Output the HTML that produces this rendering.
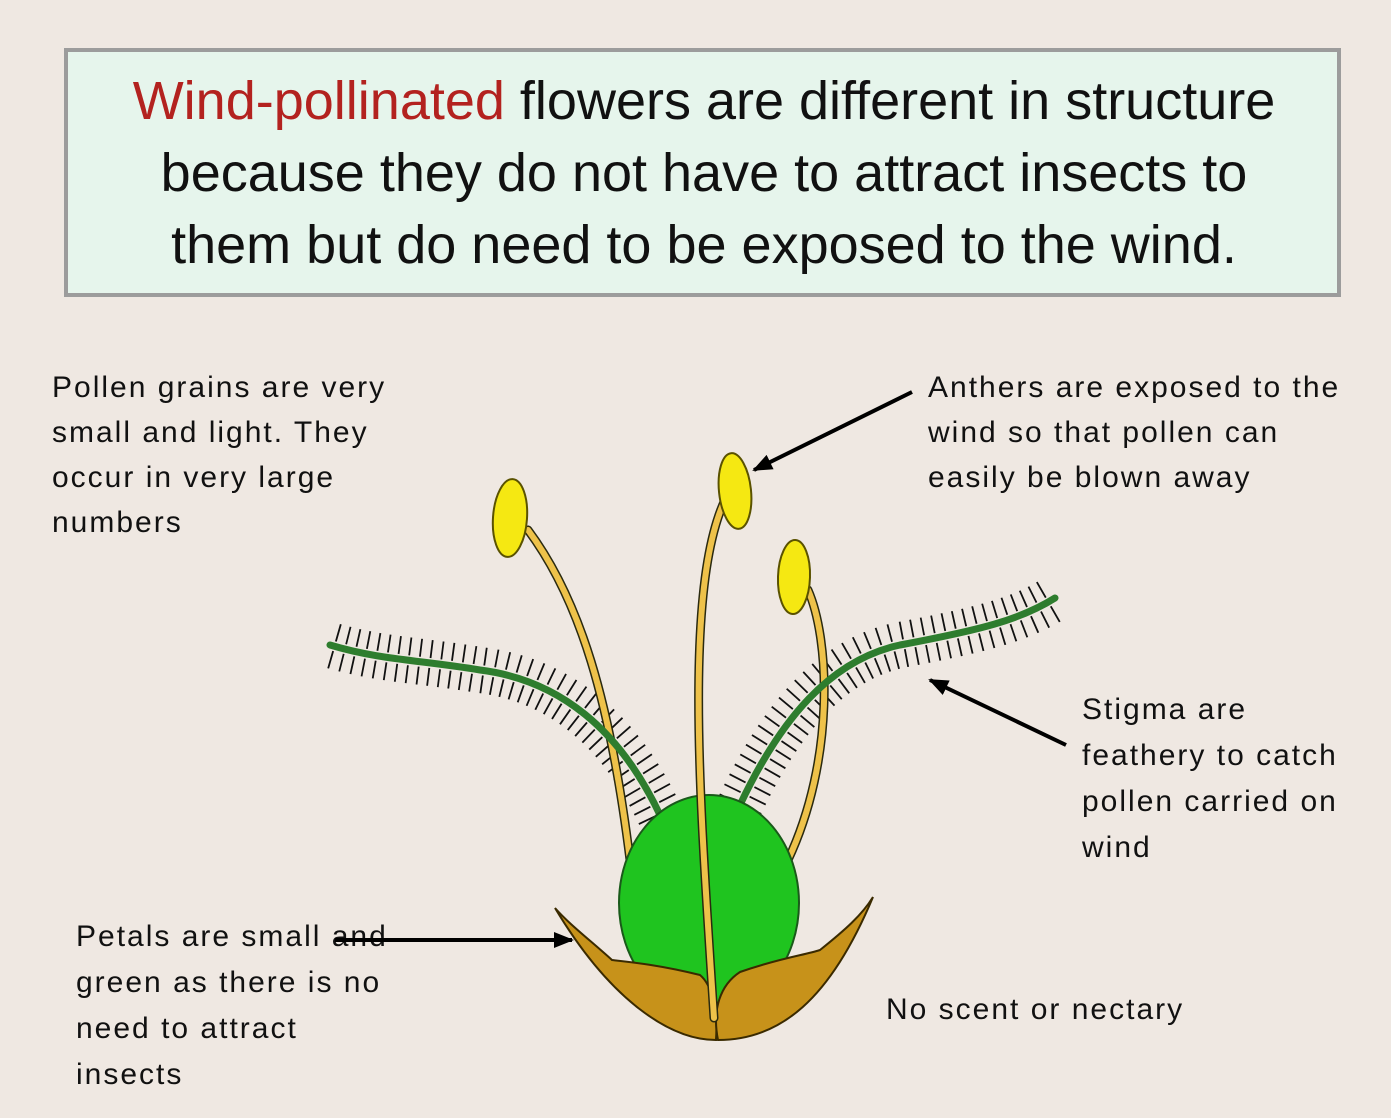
<!DOCTYPE html>
<html><head><meta charset="utf-8"><style>
html,body{margin:0;padding:0;background:#efe8e2;}
svg{display:block}
text{font-family:"Liberation Sans",sans-serif;}
</style></head><body>
<svg width="1391" height="1118" viewBox="0 0 1391 1118" xmlns="http://www.w3.org/2000/svg">
<defs>
<marker id="ah2" markerWidth="20" markerHeight="16" refX="18" refY="8" orient="auto" markerUnits="userSpaceOnUse"><path d="M0,0 L20,8 L0,16 z" fill="#000"/></marker></defs>
<rect width="1391" height="1118" fill="#efe8e2"/>
<rect x="66" y="50" width="1273" height="245" fill="#e6f5ec" stroke="#9c9c9c" stroke-width="4"/>
<g font-size="54" fill="#111" text-anchor="middle">
<text x="704" y="119"><tspan fill="#b3221f">Wind-pollinated</tspan> flowers are different in structure</text>
<text x="704" y="191">because they do not have to attract insects to</text>
<text x="704" y="263">them but do need to be exposed to the wind.</text>
</g>
<g font-size="30" fill="#111" letter-spacing="2">
<text x="52" y="397">Pollen grains are very</text>
<text x="52" y="442">small and light. They</text>
<text x="52" y="487">occur in very large</text>
<text x="52" y="532">numbers</text>
<text x="928" y="397">Anthers are exposed to the</text>
<text x="928" y="442">wind so that pollen can</text>
<text x="928" y="487">easily be blown away</text>
<text x="1082" y="719">Stigma are</text>
<text x="1082" y="765">feathery to catch</text>
<text x="1082" y="811">pollen carried on</text>
<text x="1082" y="857">wind</text>
<text x="76" y="946">Petals are small and</text>
<text x="76" y="992">green as there is no</text>
<text x="76" y="1038">need to attract</text>
<text x="76" y="1084">insects</text>
<text x="886" y="1019">No scent or nectary</text>
</g>
<!-- stigma hairs -->
<g fill="none" stroke="#111" stroke-width="46" stroke-dasharray="1.8 9">
<path d="M660,815 C620,730 560,680 480,670 C420,660 380,660 330,645"/>
<path d="M740,805 C780,720 830,660 900,645 C980,630 1020,620 1055,598"/>
</g>
<g fill="none" stroke="#efe8e2" stroke-width="10">
<path d="M660,815 C620,730 560,680 480,670 C420,660 380,660 330,645"/>
<path d="M740,805 C780,720 830,660 900,645 C980,630 1020,620 1055,598"/>
</g>
<!-- filaments side -->
<g fill="none" stroke-linecap="round">
<path d="M528,530 C580,600 610,700 630,860" stroke="#2a2a10" stroke-width="9"/>
<path d="M528,530 C580,600 610,700 630,860" stroke="#eec24a" stroke-width="6"/>
<path d="M808,590 C830,640 835,760 788,860" stroke="#2a2a10" stroke-width="9"/>
<path d="M808,590 C830,640 835,760 788,860" stroke="#eec24a" stroke-width="6"/>
</g>
<!-- stigma green -->
<g fill="none" stroke="#2e7d2e" stroke-width="7" stroke-linecap="round">
<path d="M660,815 C620,730 560,680 480,670 C420,660 380,660 330,645"/>
<path d="M740,805 C780,720 830,660 900,645 C980,630 1020,620 1055,598"/>
</g>
<ellipse cx="709" cy="903" rx="90" ry="108" fill="#1fc41f" stroke="#1a5a1a" stroke-width="2"/>
<!-- petals -->
<path d="M555,908 C610,1000 670,1040 716,1040 C718,1010 712,985 700,975 C660,965 630,962 612,960 C590,940 570,925 555,908 z" fill="#c7921a" stroke="#3a2a00" stroke-width="2"/>
<path d="M873,897 C830,1000 780,1040 718,1040 C712,1010 720,985 740,972 C780,958 805,955 820,950 C845,930 862,915 873,897 z" fill="#c7921a" stroke="#3a2a00" stroke-width="2"/>
<!-- middle filament -->
<path d="M714,1018 C700,800 680,560 735,482" fill="none" stroke="#2a2a10" stroke-width="9" stroke-linecap="round"/>
<path d="M714,1018 C700,800 680,560 735,482" fill="none" stroke="#eec24a" stroke-width="6" stroke-linecap="round"/>
<!-- anthers -->
<g fill="#f5e812" stroke="#5a5200" stroke-width="2">
<ellipse cx="510" cy="518" rx="17" ry="39" transform="rotate(4 510 518)"/>
<ellipse cx="735" cy="491" rx="16" ry="38" transform="rotate(-6 735 491)"/>
<ellipse cx="794" cy="577" rx="16" ry="37" transform="rotate(2 794 577)"/>
</g>
<!-- arrows -->
<g stroke="#000" stroke-width="4">
<line x1="912" y1="392" x2="754" y2="470" marker-end="url(#ah2)"/>
<line x1="1066" y1="745" x2="930" y2="680" marker-end="url(#ah2)"/>
<line x1="335" y1="940" x2="572" y2="940" marker-end="url(#ah2)"/>
</g>
</svg>
</body></html>
